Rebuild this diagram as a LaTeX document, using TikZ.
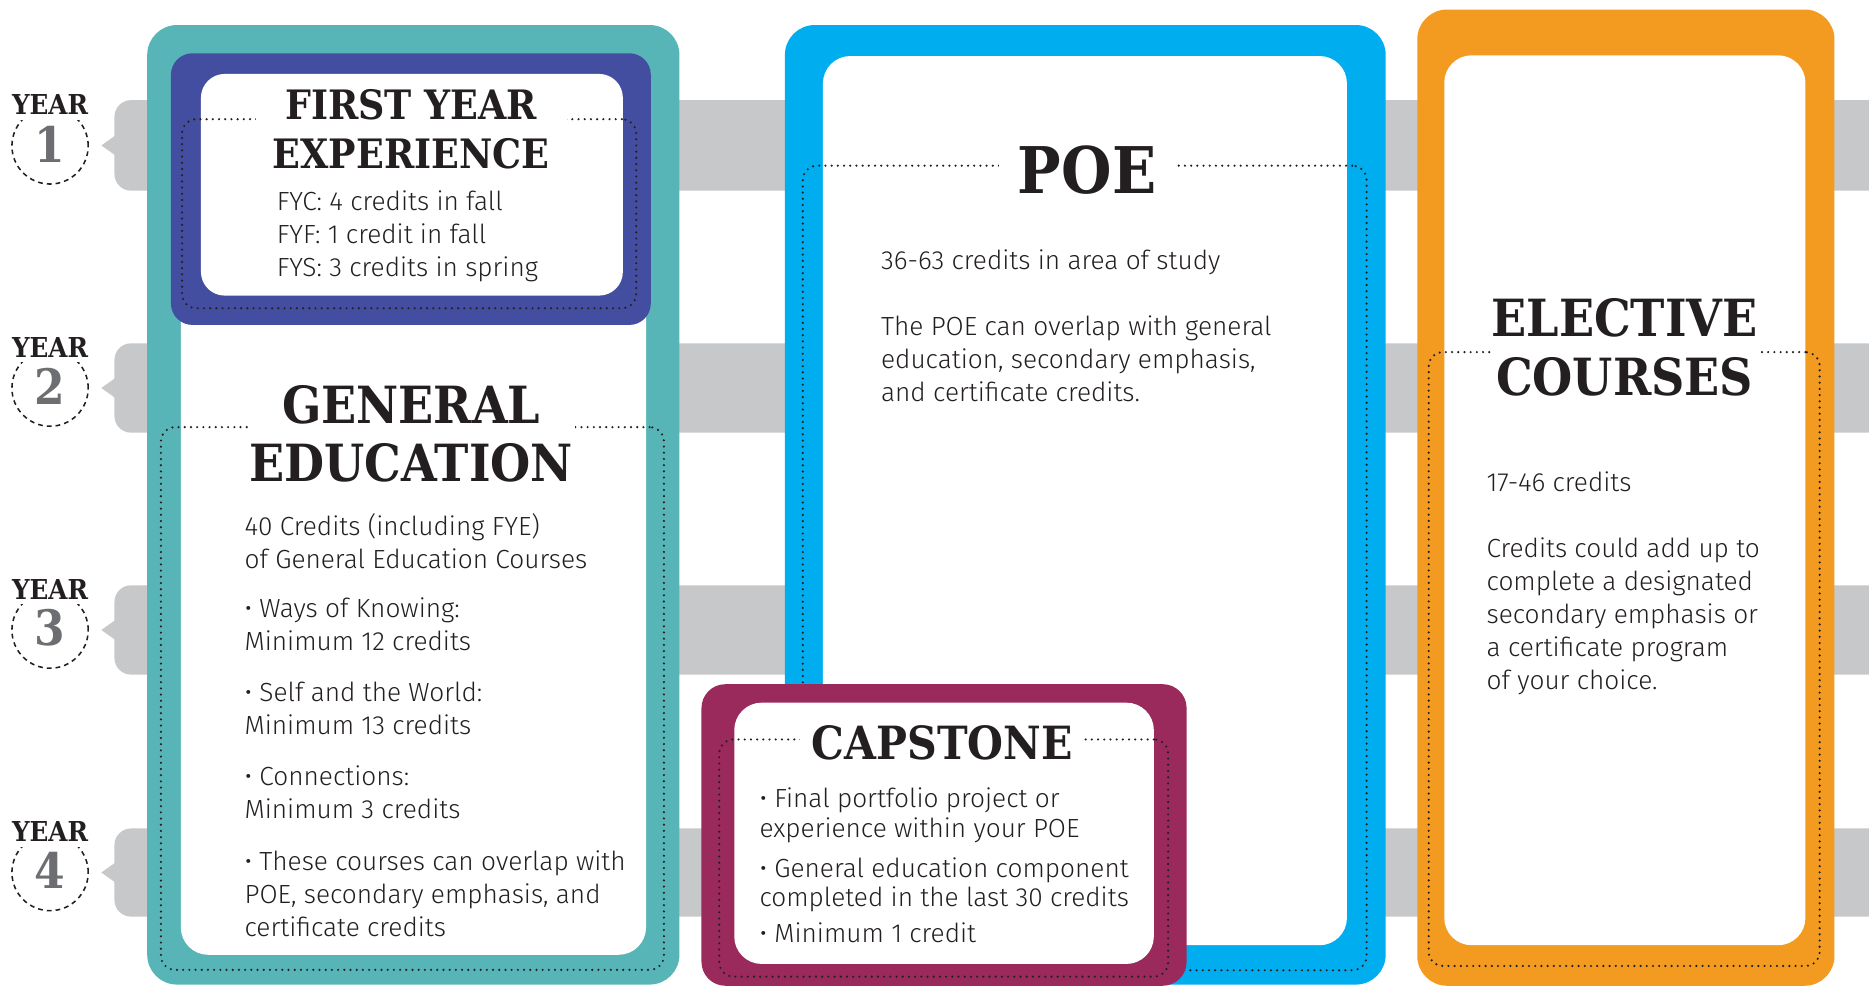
\documentclass[tikz,border=0pt]{standalone}
\usepackage{fontspec}
\setmainfont{Fira Sans Light}
\newfontfamily\headfont{DejaVu Serif}[FakeStretch=0.9]
\newfontfamily\bodyfont{Fira Sans Light}

\definecolor{txt}{HTML}{231F20}
\definecolor{numgray}{HTML}{6D6E71}
\definecolor{bandgray}{HTML}{C7C8CA}
\definecolor{gecolor}{HTML}{58B5B7}
\definecolor{fyecolor}{HTML}{434EA0}
\definecolor{poecolor}{HTML}{00AEEF}
\definecolor{capcolor}{HTML}{9A2A5C}
\definecolor{eleccolor}{HTML}{F39A21}

\tikzset{
    outerbox/.style={rectangle, rounded corners=25pt, inner sep=0pt, outer sep=0pt},
    innerbox/.style={rectangle, fill=white, rounded corners=23pt, inner sep=0pt, outer sep=0pt},
    dotframe/.style={rectangle, draw=txt, line width=2pt, dash pattern=on 0pt off 5.2pt, line cap=round, rounded corners=12pt, inner sep=0pt, outer sep=0pt},
    boxtitle/.style={fill=white, align=center, text=txt, inner xsep=0pt, inner ysep=3pt},
    bodytext/.style={align=left, anchor=north west, inner sep=0pt, text=txt, font=\bodyfont\fontsize{22}{27.7}\selectfont},
    yearband/.style={fill=bandgray},
    yearcircle/.style={circle, draw=txt, line width=1.3pt, dash pattern=on 4pt off 3.4pt, minimum size=64pt, inner sep=0pt},
    yeartext/.style={fill=white, text=txt, inner xsep=2pt, inner ysep=4pt, font=\headfont\bfseries\fontsize{23}{23}\selectfont},
    yearnum/.style={text=numgray, inner sep=0pt, font=\headfont\bfseries\fontsize{41}{41}\selectfont}
}

\begin{document}
\begin{tikzpicture}[x=1pt, y=-1pt]
        \useasboundingbox (0,0) rectangle (1568,827);

        % year bands
        \fill[yearband, rounded corners=14pt] (96,84) rectangle (1590,160);
        \fill[yearband, rounded corners=14pt] (96,288) rectangle (1590,363);
        \fill[yearband, rounded corners=14pt] (96,491) rectangle (1590,566);
        \fill[yearband, rounded corners=14pt] (96,695) rectangle (1590,769);
        \fill[yearband] (97,113.5) -- (85,122) -- (97,130.5) -- cycle;
        \fill[yearband] (97,317) -- (85,325.5) -- (97,334) -- cycle;
        \fill[yearband] (97,520) -- (85,528.5) -- (97,537) -- cycle;
        \fill[yearband] (97,723.5) -- (85,732) -- (97,740.5) -- cycle;

        \node(circ1) [yearcircle] at (42, 122.4) {};
        \node(year1) [yeartext] at (42, 88) {YEAR};
        \node(num1) [yearnum] at (42, 120.7) {1};

        \node(circ2) [yearcircle] at (42, 325.6) {};
        \node(year2) [yeartext] at (42, 291.5) {YEAR};
        \node(num2) [yearnum] at (42, 324) {2};

        \node(circ3) [yearcircle] at (42, 528.6) {};
        \node(year3) [yeartext] at (42, 494.5) {YEAR};
        \node(num3) [yearnum] at (42, 527) {3};

        \node(circ4) [yearcircle] at (42, 732) {};
        \node(year4) [yeartext] at (42, 698) {YEAR};
        \node(num4) [yearnum] at (42, 730.5) {4};

        % general education
        \node(geout) [outerbox, fill=gecolor, minimum width=446.5pt, minimum height=805pt] at (346.75, 423.5) {};
        \node(gein) [innerbox, minimum width=390.3pt, minimum height=741pt] at (346.85, 430.5) {};
        \node(gedots) [dotframe, minimum width=422pt, minimum height=455.3pt] at (346, 586) {};
        \node(getitle) [boxtitle, minimum width=274pt, font=\headfont\bfseries\fontsize{43}{48}\selectfont] at (345, 364) {GENERAL\\EDUCATION};
        \node(getext) [bodytext] at (205, 430) {\strut 40 Credits (including FYE)\\ of General Education Courses\\[13.1pt]
            • Ways of Knowing:\\ Minimum 12 credits\\[15.1pt]
            • Self and the World:\\ Minimum 13 credits\\[14.8pt]
            • Connections:\\ Minimum 3 credits\\[15.9pt]
            • These courses can overlap with\\ POE, secondary emphasis, and\\ certificate credits};

        % first year experience
        \node(fyeout) [outerbox, rounded corners=18pt, fill=fyecolor, minimum width=402.6pt, minimum height=227.9pt] at (344.7, 158.65) {};
        \node(fyein) [innerbox, rounded corners=20pt, minimum width=354pt, minimum height=186pt] at (345.55, 155) {};
        \node(fyedots) [dotframe, minimum width=381pt, minimum height=158.6pt] at (343.25, 179.3) {};
        \node(fyetitle) [boxtitle, minimum width=261pt, font=\headfont\bfseries\fontsize{34}{40.6}\selectfont] at (345, 108.3) {FIRST YEAR\\EXPERIENCE};
        \node(fyetext) [bodytext] at (232, 156.8) {\strut FYC: 4 credits in fall\\ FYF: 1 credit in fall\\ FYS: 3 credits in spring};

        % poe
        \node(poeout) [outerbox, fill=poecolor, minimum width=504pt, minimum height=805pt] at (910.5, 423.5) {};
        \node(poein) [innerbox, minimum width=439.6pt, minimum height=746pt] at (910.2, 420) {};
        \node(poedots) [dotframe, minimum width=473pt, minimum height=675pt] at (910, 476.5) {};
        \node(poetitle) [boxtitle, minimum width=147pt, font=\headfont\bfseries\fontsize{54}{54}\selectfont] at (912, 142.6) {POE};
        \node(poetext) [bodytext] at (739, 206.2) {\strut 36-63 credits in area of study\\[28pt]
            The POE can overlap with general\\ education, secondary emphasis,\\ and certificate credits.};

        % capstone
        \node(capout) [outerbox, rounded corners=20pt, fill=capcolor, minimum width=407pt, minimum height=253pt] at (792, 700.5) {};
        \node(capin) [innerbox, minimum width=352pt, minimum height=219.2pt] at (792, 699.1) {};
        \node(capdots) [dotframe, minimum width=376.6pt, minimum height=199pt] at (791.7, 719.85) {};
        \node(captitle) [boxtitle, minimum width=238pt, font=\headfont\bfseries\fontsize{38.4}{38.4}\selectfont] at (790.5, 623.6) {CAPSTONE};
        \node(captext) [bodytext, font=\bodyfont\fontsize{22}{25}\selectfont] at (637, 660.1) {\strut • Final portfolio project or\\ experience within your POE\\[8pt]
            • General education component\\ completed in the last 30 credits\\[5pt]
            • Minimum 1 credit};

        % elective courses
        \node(elecout) [outerbox, fill=eleccolor, minimum width=350pt, minimum height=819pt] at (1364, 417.5) {};
        \node(elecin) [innerbox, minimum width=303pt, minimum height=746.6pt] at (1363.15, 419.7) {};
        \node(elecdots) [dotframe, minimum width=328pt, minimum height=515pt] at (1362.6, 552.9) {};
        \node(electitle) [boxtitle, minimum width=213pt, font=\headfont\bfseries\fontsize{43}{49}\selectfont] at (1363, 291.5) {ELECTIVE\\COURSES};
        \node(electext) [bodytext] at (1247, 392.8) {\strut 17-46 credits\\[27.7pt]
            Credits could add up to\\ complete a designated\\ secondary emphasis or\\ a certificate program\\ of your choice.};
    \end{tikzpicture}
\end{document}
